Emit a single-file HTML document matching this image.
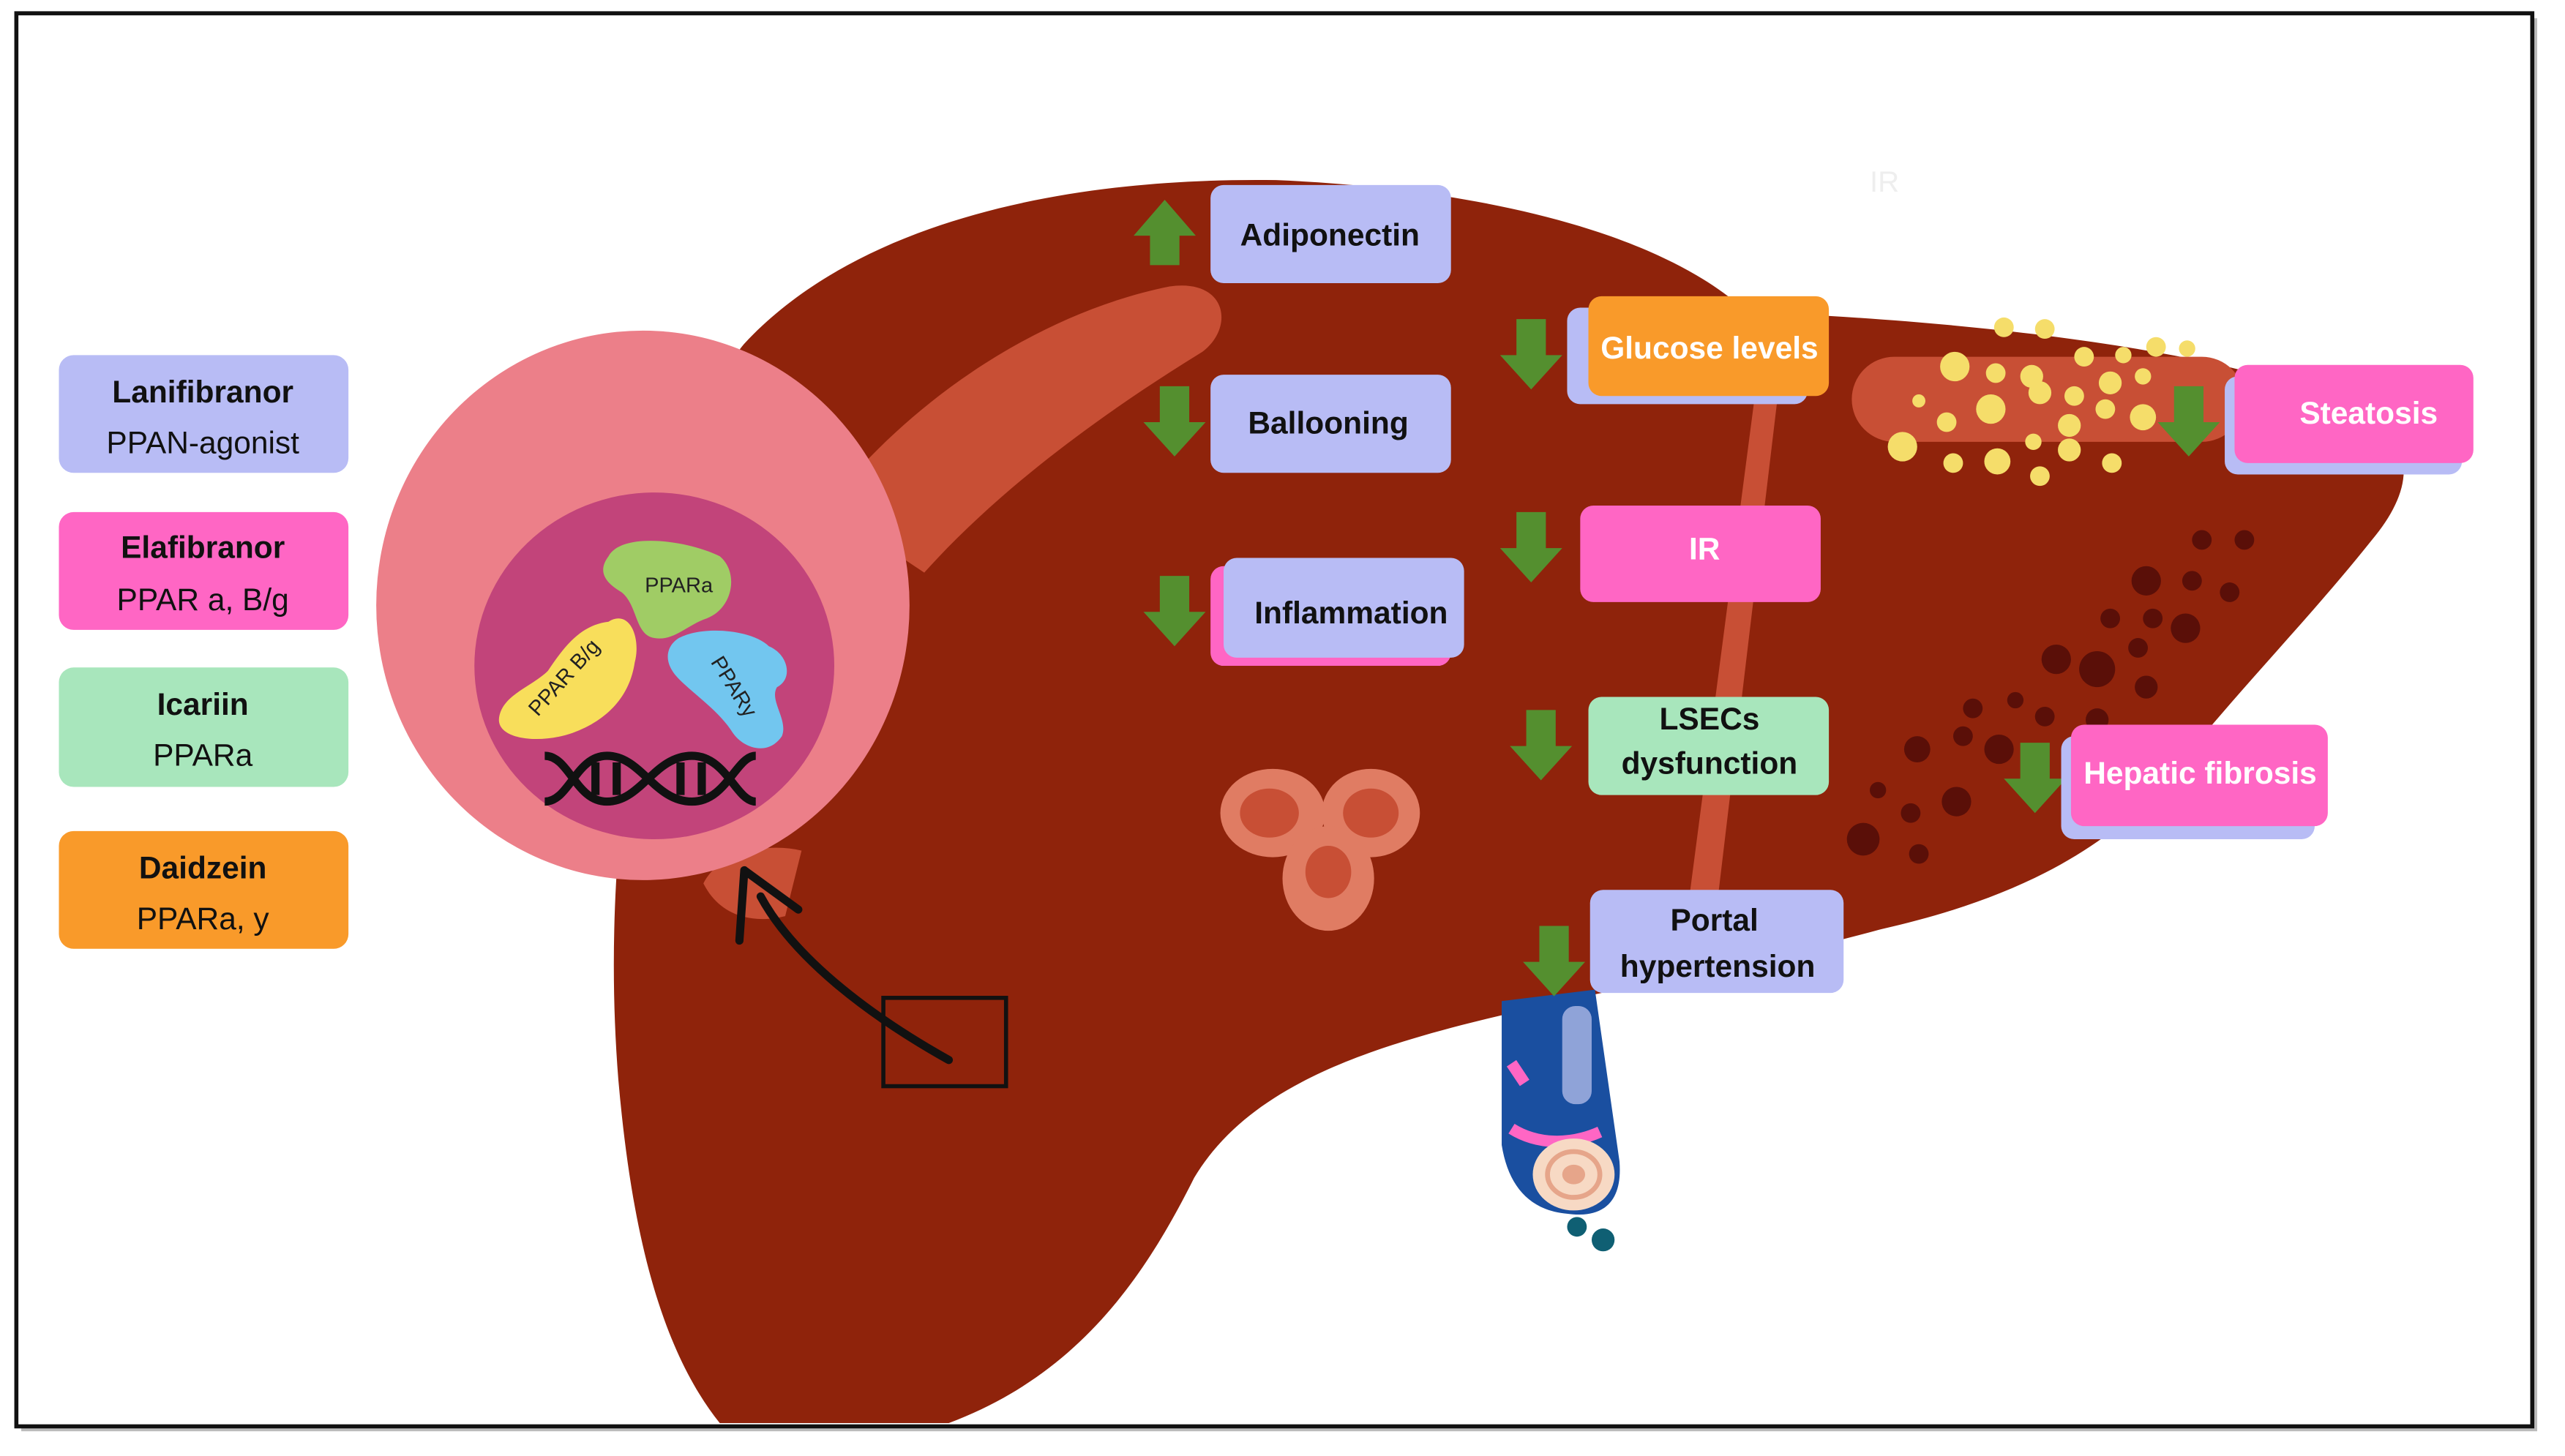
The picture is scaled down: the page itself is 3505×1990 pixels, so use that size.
<!DOCTYPE html>
<html><head><meta charset="utf-8"><style>
html,body{margin:0;padding:0;background:#fff;}
svg{display:block;}
text{font-family:"Liberation Sans",Arial,sans-serif;}
</style></head><body>
<svg width="3505" height="1990" viewBox="0 0 1568 890" xmlns="http://www.w3.org/2000/svg">
<rect width="1568" height="890" fill="#fff"/>
<rect x="13" y="11" width="1538" height="864" fill="#bbb"/>
<rect x="10" y="8" width="1538" height="864" fill="#fff" stroke="#111" stroke-width="2.5"/>
<text x="1152" y="117" font-size="18" fill="#eee" text-anchor="middle">IR</text>
<!-- liver -->
<path d="M455,210 C520,140 640,108 780,110 C900,115 1010,140 1065,188 L1100,192 C1250,200 1380,220 1440,250 C1480,270 1475,300 1450,330 C1410,380 1370,420 1330,470 C1290,520 1230,550 1150,568 C1070,590 980,605 900,625 C820,645 760,670 730,720 C700,780 660,840 580,870 L440,870 C400,820 385,740 378,660 C370,560 380,460 400,380 C415,300 430,240 455,210 Z" fill="#8f230b"/>
<path d="M505,310 C560,240 640,190 715,175 C750,170 755,200 735,215 C670,255 610,300 565,350 Z" fill="#c84f35"/>
<path d="M430,540 C440,520 470,515 490,520 L480,560 C460,565 440,560 430,540Z" fill="#c84f35"/>
<path d="M1073,240 L1087,240 L1045,592 L1027,592 Z" fill="#c84f35"/>
<rect x="1132" y="218" width="240" height="52" rx="26" fill="#c84f35"/>
<g fill="#f5dd6a">
<circle cx="1225" cy="200" r="6"/><circle cx="1250" cy="201" r="6"/><circle cx="1274" cy="218" r="6"/><circle cx="1298" cy="217" r="5"/><circle cx="1318" cy="212" r="6"/><circle cx="1337" cy="213" r="5"/>
<circle cx="1195" cy="224" r="9"/><circle cx="1220" cy="228" r="6"/><circle cx="1242" cy="230" r="7"/><circle cx="1268" cy="242" r="6"/><circle cx="1290" cy="234" r="7"/><circle cx="1310" cy="230" r="5"/>
<circle cx="1173" cy="245" r="4"/><circle cx="1190" cy="258" r="6"/><circle cx="1217" cy="250" r="9"/><circle cx="1247" cy="240" r="7"/><circle cx="1265" cy="260" r="7"/><circle cx="1287" cy="250" r="6"/><circle cx="1310" cy="255" r="8"/>
<circle cx="1163" cy="273" r="9"/><circle cx="1194" cy="283" r="6"/><circle cx="1221" cy="282" r="8"/><circle cx="1247" cy="291" r="6"/><circle cx="1243" cy="270" r="5"/><circle cx="1265" cy="275" r="7"/><circle cx="1291" cy="283" r="6"/>
</g>
<g fill="#5a0f08">
<circle cx="1346" cy="330" r="6"/><circle cx="1372" cy="330" r="6"/><circle cx="1312" cy="355" r="9"/><circle cx="1340" cy="355" r="6"/><circle cx="1363" cy="362" r="6"/><circle cx="1290" cy="378" r="6"/><circle cx="1316" cy="378" r="6"/><circle cx="1336" cy="384" r="9"/><circle cx="1307" cy="396" r="6"/>
<circle cx="1257" cy="403" r="9"/><circle cx="1282" cy="409" r="11"/><circle cx="1312" cy="420" r="7"/><circle cx="1232" cy="428" r="5"/><circle cx="1206" cy="433" r="6"/><circle cx="1250" cy="438" r="6"/><circle cx="1282" cy="440" r="7"/>
<circle cx="1172" cy="458" r="8"/><circle cx="1200" cy="450" r="6"/><circle cx="1222" cy="458" r="9"/><circle cx="1148" cy="483" r="5"/><circle cx="1168" cy="497" r="6"/><circle cx="1196" cy="490" r="9"/><circle cx="1139" cy="513" r="10"/><circle cx="1173" cy="522" r="6"/>
</g>
<g fill="#e07c63">
<ellipse cx="778" cy="497" rx="32" ry="27"/><ellipse cx="838" cy="497" rx="30" ry="27"/><ellipse cx="812" cy="537" rx="28" ry="32"/>
</g>
<g fill="#c84f35"><ellipse cx="776" cy="497" rx="18" ry="15"/><ellipse cx="838" cy="497" rx="17" ry="15"/><ellipse cx="812" cy="533" rx="14" ry="16"/></g>
<!-- vessel -->
<path d="M918,612 L975,605 L990,710 C992,735 980,745 958,742 C935,740 922,725 918,700 Z" fill="#1a4fa0"/>
<rect x="955" y="615" width="18" height="60" rx="8" fill="#8fa3d8"/>
<path d="M924,650 L932,662 M924,690 C940,700 960,700 978,692" stroke="#ff66c4" stroke-width="7" fill="none"/>
<ellipse cx="962" cy="718" rx="25" ry="22" fill="#f7d9c4"/>
<ellipse cx="962" cy="718" rx="16" ry="14" fill="none" stroke="#e6a58a" stroke-width="3"/>
<ellipse cx="962" cy="718" rx="7" ry="6" fill="#e6a58a"/>
<circle cx="964" cy="750" r="6" fill="#0f5f73"/><circle cx="980" cy="758" r="7" fill="#0f5f73"/>
<!-- nucleus circle -->
<ellipse cx="393" cy="370" rx="163" ry="168" fill="#ec7f89"/>
<ellipse cx="400" cy="407" rx="110" ry="106" fill="#c2447a"/>
<path d="M372,340 C380,325 420,330 440,340 C452,350 448,372 432,378 C420,382 412,392 400,390 C388,388 390,370 380,362 C368,355 366,348 372,340Z" fill="#a0cc65"/>
<text x="415" y="362" font-size="13" text-anchor="middle" fill="#222">PPARa</text>
<path d="M372,380 C385,372 392,390 388,405 C385,425 372,440 350,448 C330,455 305,452 305,440 C306,425 325,420 335,410 C345,395 355,382 372,380Z" fill="#f8de5b"/>
<text transform="translate(348,417) rotate(-48)" font-size="13" text-anchor="middle" fill="#222">PPAR B/g</text>
<path d="M415,390 C430,382 460,385 470,395 C482,400 485,415 475,420 C470,428 482,440 478,450 C470,462 455,458 448,448 C440,435 425,425 415,415 C405,405 407,395 415,390Z" fill="#72c6ef"/>
<text transform="translate(445,422) rotate(58)" font-size="13" text-anchor="middle" fill="#222">PPARy</text>
<!-- DNA -->
<g stroke="#111" stroke-width="5" fill="none">
<path d="M333,462 C348,462 352,490 371,490 C392,490 400,462 423,462 C444,462 450,490 462,490"/>
<path d="M333,490 C348,490 352,462 371,462 C392,462 400,490 423,490 C444,490 450,462 462,462"/>
<path d="M364,466 V486 M377,466 V486 M416,466 V486 M429,466 V486"/>
</g>
<rect x="540" y="610" width="75" height="54" fill="none" stroke="#111" stroke-width="2.5"/>
<path d="M580,648 C530,620 485,585 465,548" stroke="#111" stroke-width="5" fill="none" stroke-linecap="round"/>
<path d="M455,532 L452,575 M455,532 L488,556" stroke="#111" stroke-width="5" fill="none" stroke-linecap="round"/>
<g font-size="19" text-anchor="middle">
<rect x="36" y="217" width="177" height="72" rx="9" fill="#b8bcf5"/>
<text x="124" y="246" font-weight="bold" fill="#111">Lanifibranor</text><text x="124" y="277" fill="#111">PPAN-agonist</text>
<rect x="36" y="313" width="177" height="72" rx="9" fill="#ff66c4"/>
<text x="124" y="341" font-weight="bold" fill="#111">Elafibranor</text><text x="124" y="373" fill="#111">PPAR a, B/g</text>
<rect x="36" y="408" width="177" height="73" rx="9" fill="#a8e6bc"/>
<text x="124" y="437" font-weight="bold" fill="#111">Icariin</text><text x="124" y="468" fill="#111">PPARa</text>
<rect x="36" y="508" width="177" height="72" rx="9" fill="#f99a2a"/>
<text x="124" y="537" font-weight="bold" fill="#111">Daidzein</text><text x="124" y="568" fill="#111">PPARa, y</text>
</g>
<g fill="#548f2f">
<path d="M703,162 V144 H693 L712,122 L731,144 H721 V162Z"/>
<path id="da" d="M-9,0 H9 V22 H19 L0,43 L-19,22 H-9Z" transform="translate(718,236)"/>
<use href="#da" transform="translate(0,116)"/>
<use href="#da" transform="translate(218,-41)"/>
<use href="#da" transform="translate(218,77)"/>
<use href="#da" transform="translate(224,198)"/>
<use href="#da" transform="translate(232,330)"/>
<use href="#da" transform="translate(620,0)"/>
<use href="#da" transform="translate(526,218)"/>
</g>
<g font-size="19" font-weight="bold" text-anchor="middle">
<rect x="740" y="113" width="147" height="60" rx="8" fill="#b8bcf5"/><text x="813" y="150" fill="#111">Adiponectin</text>
<rect x="740" y="229" width="147" height="60" rx="8" fill="#b8bcf5"/><text x="812" y="265" fill="#111">Ballooning</text>
<rect x="740" y="346" width="147" height="61" rx="8" fill="#ff66c4"/>
<rect x="748" y="341" width="147" height="61" rx="8" fill="#b8bcf5"/><text x="826" y="381" fill="#111">Inflammation</text>
<rect x="958" y="188" width="147" height="59" rx="8" fill="#b8bcf5"/>
<rect x="971" y="181" width="147" height="61" rx="8" fill="#f99a2a"/><text x="1045" y="219" fill="#fff">Glucose levels</text>
<rect x="966" y="309" width="147" height="59" rx="8" fill="#ff66c4"/><text x="1042" y="342" fill="#fff">IR</text>
<rect x="971" y="426" width="147" height="60" rx="8" fill="#a8e6bc"/><text x="1045" y="446" fill="#111">LSECs</text><text x="1045" y="473" fill="#111">dysfunction</text>
<rect x="972" y="544" width="155" height="63" rx="8" fill="#b8bcf5"/><text x="1048" y="569" fill="#111">Portal</text><text x="1050" y="597" fill="#111">hypertension</text>
<rect x="1360" y="230" width="145" height="60" rx="8" fill="#b8bcf5"/>
<rect x="1366" y="223" width="146" height="60" rx="8" fill="#ff66c4"/><text x="1448" y="259" fill="#fff">Steatosis</text>
<rect x="1260" y="450" width="155" height="63" rx="8" fill="#b8bcf5"/>
<rect x="1266" y="443" width="157" height="62" rx="8" fill="#ff66c4"/><text x="1345" y="479" fill="#fff">Hepatic fibrosis</text>
</g>
</svg>
</body></html>
